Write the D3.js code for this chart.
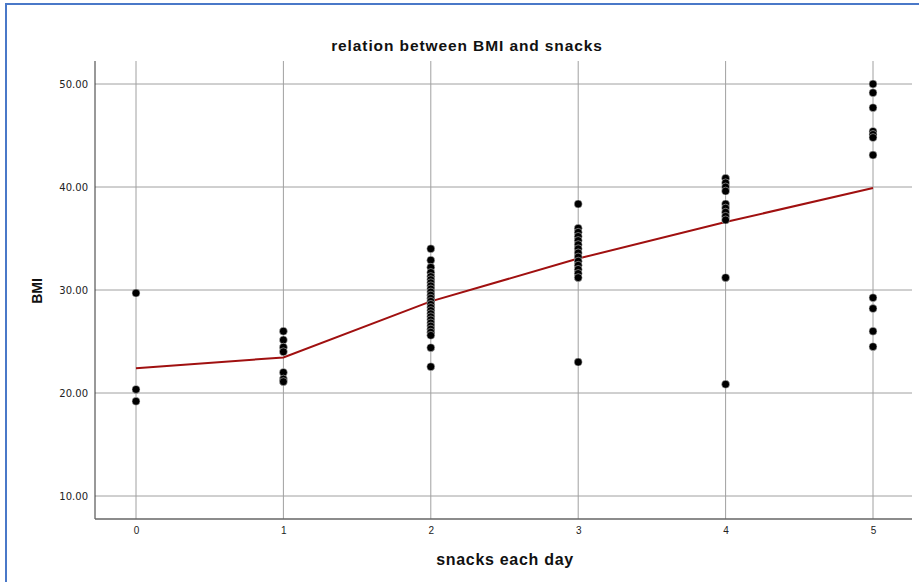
<!DOCTYPE html>
<html>
<head>
<meta charset="utf-8">
<script src="https://cdn.jsdelivr.net/npm/d3@7"></script>
<style>
  body { margin: 0; background: #fff; }
  svg { display: block; font-family: "Liberation Sans", Arial, sans-serif; }
</style>
</head>
<body>
<div id="chart"></div>
<script>
// snacks per day categories and BMI values
const snacks = [0, 1, 2, 3, 4, 5];
const bmi0 = [29.7, 20.35, 19.2];
const bmi1 = [26.0, 25.15, 24.45, 24.0, 22.0, 21.35, 21.1];
const bmi2 = [34.0, 32.9, 32.2, 31.7, 31.3, 31.0, 30.7, 30.4, 30.1, 29.8, 29.5, 29.2, 28.9,
              28.6, 28.3, 28.0, 27.7, 27.4, 27.1, 26.8, 26.5, 26.2, 25.9, 25.6, 24.4, 22.55];
const bmi3 = [38.35, 36.0, 35.6, 35.2, 34.8, 34.4, 34.0, 33.6, 33.2, 32.8, 32.4, 32.0, 31.6, 31.2, 23.0];
const bmi4 = [40.85, 40.4, 40.0, 39.6, 38.35, 37.95, 37.55, 37.15, 36.8, 31.2, 20.85];
const bmi5 = [50.0, 49.15, 47.7, 45.4, 45.1, 44.8, 43.1, 29.25, 28.2, 26.0, 24.5];
const meanBmi = [22.4, 23.45, 28.9, 33.05, 36.6, 39.9];
const yTicks = [10, 20, 30, 40, 50];

const groups = [bmi0, bmi1, bmi2, bmi3, bmi4, bmi5];
const points = [];
groups.forEach((g, i) => g.forEach(v => points.push({ s: snacks[i], v: v })));

const width = 919, height = 582;
const plotLeft = 95, plotRight = 912, plotTop = 61, plotBottom = 519;

const svg = d3.select("#chart").append("svg")
  .attr("width", width)
  .attr("height", height);

// blue frame on top and left
svg.append("line").attr("x1", 5).attr("x2", width).attr("y1", 4).attr("y2", 4)
  .attr("stroke", "#4a78c8").attr("stroke-width", 2);
svg.append("line").attr("x1", 6).attr("x2", 6).attr("y1", 3).attr("y2", height)
  .attr("stroke", "#4a78c8").attr("stroke-width", 2);

const x = d3.scaleLinear().domain([0, 5]).range([136, 873]);
const y = d3.scaleLinear().domain([10, 50]).range([496, 84]);

// gridlines
svg.append("g")
  .selectAll("line")
  .data(yTicks)
  .join("line")
  .attr("x1", plotLeft).attr("x2", plotRight)
  .attr("y1", d => y(d)).attr("y2", d => y(d))
  .attr("stroke", "#a0a0a0").attr("stroke-width", 1);

svg.append("g")
  .selectAll("line")
  .data(snacks)
  .join("line")
  .attr("x1", d => x(d)).attr("x2", d => x(d))
  .attr("y1", plotTop).attr("y2", plotBottom)
  .attr("stroke", "#a0a0a0").attr("stroke-width", 1);

// axes
const yAxis = svg.append("g")
  .attr("transform", `translate(${plotLeft},0)`)
  .call(d3.axisLeft(y).tickValues(yTicks).tickFormat(d3.format(".2f")).tickSize(0).tickPadding(7));
yAxis.select(".domain").attr("d", `M0,${plotTop}V${plotBottom}`).attr("stroke", "#333");
yAxis.selectAll("text").attr("font-size", 10).attr("fill", "#222")
  .attr("font-family", "'DejaVu Sans', sans-serif");

const xAxis = svg.append("g")
  .attr("transform", `translate(0,${plotBottom})`)
  .call(d3.axisBottom(x).tickValues(snacks).tickFormat(d3.format("d")).tickSize(0).tickPadding(8));
xAxis.select(".domain").attr("d", `M${plotLeft},0H${plotRight}`).attr("stroke", "#666").attr("stroke-width", 1.5);
xAxis.selectAll("text").attr("font-size", 10).attr("fill", "#222");

// mean line
svg.append("path")
  .datum(snacks.map((s, i) => ({ s: s, v: meanBmi[i] })))
  .attr("d", d3.line().x(d => x(d.s)).y(d => y(d.v)))
  .attr("fill", "none")
  .attr("stroke", "#a01010")
  .attr("stroke-width", 2);

// points
svg.append("g")
  .selectAll("circle")
  .data(points)
  .join("circle")
  .attr("cx", d => x(d.s))
  .attr("cy", d => y(d.v))
  .attr("r", 4)
  .attr("fill", "#000")
  .attr("stroke", "#ddd")
  .attr("stroke-width", 0.5);

// titles
svg.append("text")
  .attr("x", 467).attr("y", 51)
  .attr("text-anchor", "middle")
  .attr("font-size", 15.5).attr("font-weight", "bold").attr("fill", "#111")
  .attr("letter-spacing", 0.9)
  .text("relation between BMI and snacks");

svg.append("text")
  .attr("x", 505).attr("y", 565)
  .attr("text-anchor", "middle")
  .attr("font-size", 16).attr("font-weight", "bold").attr("fill", "#111")
  .attr("letter-spacing", 0.7)
  .text("snacks each day");

svg.append("text")
  .attr("transform", "translate(42,291) rotate(-90)")
  .attr("text-anchor", "middle")
  .attr("font-size", 14).attr("font-weight", "bold").attr("fill", "#111")
  .text("BMI");
</script>
</body>
</html>
